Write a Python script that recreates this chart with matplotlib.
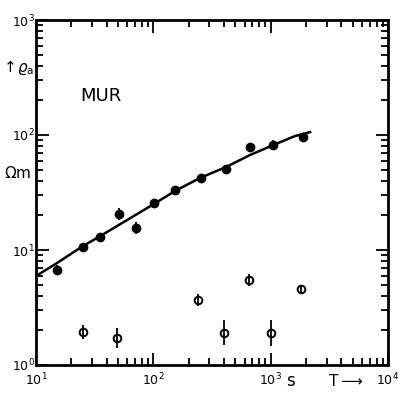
import numpy as np
import matplotlib
matplotlib.use("Agg")
import matplotlib.pyplot as plt
from matplotlib.ticker import LogLocator, NullFormatter

# period T in s, apparent resistivity in Ohm m
t_full = [15.2, 25.0, 35.2, 50.7, 71.3, 101, 153, 253, 417, 667, 1054, 1900]
rho_full = [6.7, 10.7, 13.1, 20.6, 15.6, 25.4, 33.2, 42.0, 50.3, 79.1, 81.8, 95.5]
err_full = [1.10, 1.06, 1.08, 1.12, 1.13, 1.08, 1.06, 1.05, 1.06, 1.04, 1.10, 1.05]

t_open = [25.0, 49.3, 242, 401, 655, 1000, 1828]
rho_open = [1.95, 1.71, 3.67, 1.91, 5.48, 1.91, 4.55]
err_open = [1.15, 1.22, 1.12, 1.28, 1.12, 1.30, 1.08]

# model curve
t_curve = [10, 15.1, 25.0, 35.2, 101, 153, 250, 417, 667, 1054, 1614, 2168]
rho_curve = [5.94, 7.7, 10.8, 13.2, 25.1, 32.6, 42.3, 52.7, 67, 81.8, 98, 106]

fig = plt.figure(figsize=(4.01, 3.98), dpi=100)
ax = fig.add_axes([36/401, 1-365/398, 352/401, 345/398])
ax.set_xscale('log')
ax.set_yscale('log')
ax.set_xlim(10, 1e4)
ax.set_ylim(1, 1e3)

ax.plot(t_curve, rho_curve, color='black', lw=1.8)

rf = np.array(rho_full)
ef = np.array(err_full)
ax.errorbar(t_full, rho_full, yerr=[rf - rf/ef, rf*ef - rf], fmt='o', color='black',
            ms=6, elinewidth=1.3, capsize=0)

ro = np.array(rho_open)
eo = np.array(err_open)
ax.errorbar(t_open, rho_open, yerr=[ro - ro/eo, ro*eo - ro], fmt='o', color='black',
            mfc='none', mec='black', mew=1.4, ms=5.5, elinewidth=1.3, capsize=0)

for s in ax.spines.values():
    s.set_linewidth(2)

ax.tick_params(which='both', direction='in', top=True, right=True, width=1.3,
               labelsize=9)
ax.tick_params(which='major', length=9)
ax.tick_params(which='minor', length=5)
ax.xaxis.set_minor_locator(LogLocator(base=10, subs=np.arange(2, 10)))
ax.yaxis.set_minor_locator(LogLocator(base=10, subs=np.arange(2, 10)))
ax.xaxis.set_minor_formatter(NullFormatter())
ax.yaxis.set_minor_formatter(NullFormatter())

xt = [10, 100, 1000, 10000]
xl = [r'$10^1$', r'$10^2$', r'$10^3$', r'$10^4$']
yt = [1, 10, 100, 1000]
yl = [r'$10^0$', r'$10^1$', r'$10^2$', r'$10^3$']
ax.set_xticks(xt)
ax.set_xticklabels(xl)
ax.set_yticks(yt)
ax.set_yticklabels(yl)
ax.tick_params(axis='x', pad=5)
ax.tick_params(axis='y', pad=1)

fig.text(1/401, 1-68/398, r'$\uparrow\!\varrho_{\rm a}$', fontsize=11, va='center')
fig.text(4/401, 1-173/398, r'$\Omega$m', fontsize=11, va='center')
fig.text(80/401, 1-96/398, 'MUR', fontsize=13, va='center')
fig.text(286/401, 1-381/398, 's', fontsize=12, va='center')
fig.text(328/401, 1-381/398, r'T$\longrightarrow$', fontsize=11, va='center')

fig.savefig('out.png', dpi=100)
